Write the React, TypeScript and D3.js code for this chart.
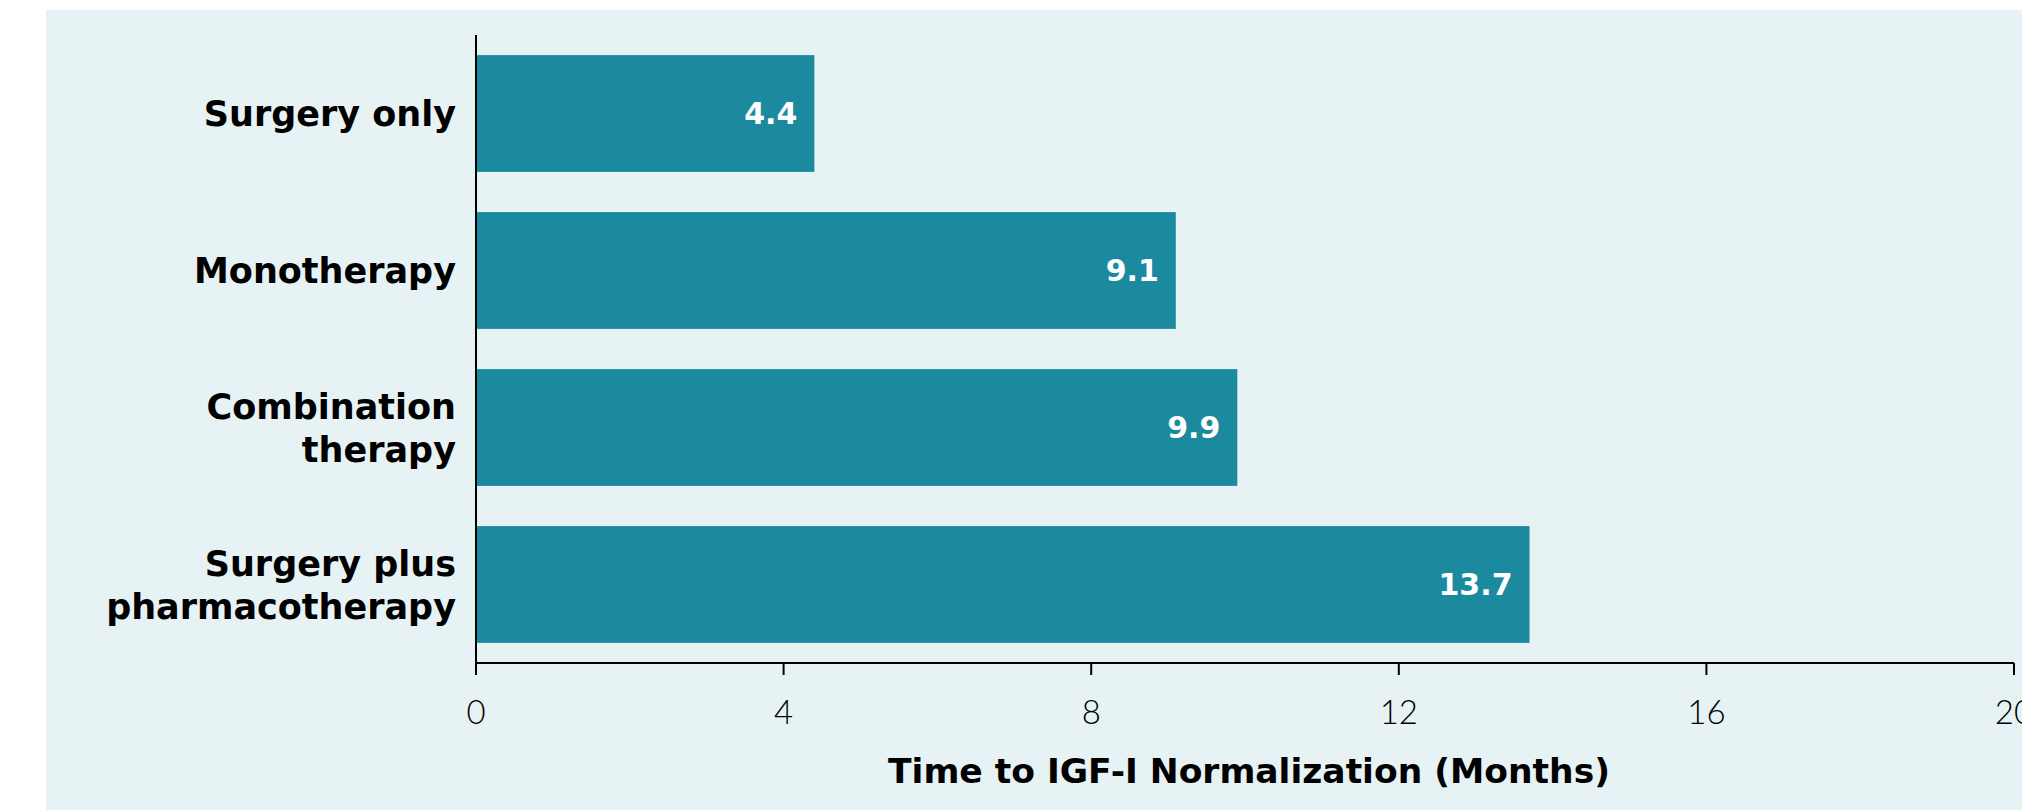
import React from "react";
import * as d3 from "d3";

const categories = ["Surgery only", "Monotherapy", "Combination therapy", "Surgery plus pharmacotherapy"];
const categoryLines = [["Surgery only"], ["Monotherapy"], ["Combination", "therapy"], ["Surgery plus", "pharmacotherapy"]];
const values = [4.4, 9.1, 9.9, 13.7];
const xTicks = [0, 4, 8, 12, 16, 20];
const xTitle = "Time to IGF-I Normalization (Months)";

const W = 2022;
const H = 810;
const BG = "#e6f2f4";
const BAR = "#1b8a9e";
const FONT = "'DejaVu Sans', sans-serif";
const TICKFONT = "Lato, 'Open Sans', sans-serif";

export default function App() {
  const x = d3.scaleLinear().domain([0, 20]).range([476, 2014]);
  const y = d3.scaleBand<string>().domain(categories).range([35, 663]).paddingInner(0.256).paddingOuter(0.128);
  const axisY = 663;
  return (
    <svg width={W} height={H} style={{ position: "absolute", left: 0, top: 0, display: "block" }}>
      <rect x={46} y={10} width={W - 46} height={H - 10} fill={BG} />
      {categories.map((c, i) => (
        <rect key={c} x={x(0)} y={y(c)!} width={x(values[i]) - x(0)} height={y.bandwidth()} fill={BAR} />
      ))}
      {categories.map((c, i) => (
        <text key={"v" + c} x={x(values[i]) - 17} y={y(c)! + y.bandwidth() / 2} dy="0.36em" textAnchor="end"
          fill="#fff" fontFamily={FONT} fontWeight={700} fontSize={30}>{values[i].toFixed(1)}</text>
      ))}
      {categories.map((c, i) => {
        const lines = categoryLines[i];
        const cy = y(c)! + y.bandwidth() / 2;
        return (
          <text key={"l" + c} x={456} textAnchor="end" fill="#000" fontFamily={FONT} fontWeight={700} fontSize={35}>
            {lines.map((l, j) => (
              <tspan key={j} x={456} y={cy + (j - (lines.length - 1) / 2) * 43} dy="0.36em">{l}</tspan>
            ))}
          </text>
        );
      })}
      <line x1={x(0)} x2={x(0)} y1={35} y2={axisY} stroke="#000" strokeWidth={2} />
      <line x1={x(0)} x2={x(20)} y1={axisY} y2={axisY} stroke="#000" strokeWidth={2} />
      {xTicks.map((t) => (
        <g key={t}>
          <line x1={x(t)} x2={x(t)} y1={axisY} y2={axisY + 12} stroke="#000" strokeWidth={2} />
          <text x={x(t)} y={712} dy="0.35em" textAnchor="middle" fill="#000" fontFamily={TICKFONT} fontWeight={300} fontSize={33}>{t}</text>
        </g>
      ))}
      <text x={(x(0) + x(20)) / 2 + 4} y={771} dy="0.36em" textAnchor="middle" fill="#000" fontFamily={FONT} fontWeight={700} fontSize={34.5}>{xTitle}</text>
    </svg>
  );
}
